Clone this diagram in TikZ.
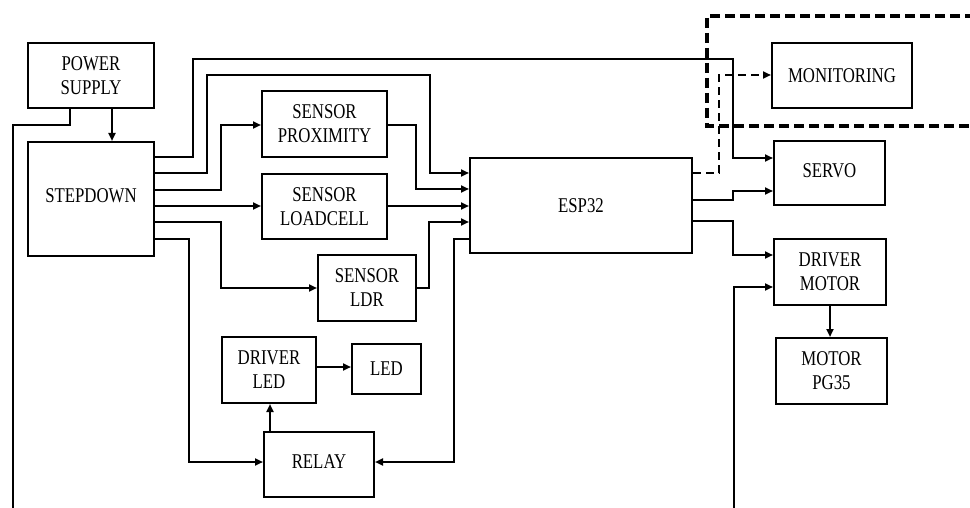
\documentclass[tikz,border=0pt]{standalone}
\usepackage{fontspec}
\setmainfont[FakeStretch=0.8]{Liberation Serif}
\usetikzlibrary{arrows.meta}
\begin{document}
\begin{tikzpicture}[x=1pt,y=-1pt,
  box/.style={draw, line width=2pt, inner sep=0pt, align=center,
    font=\fontsize{21}{24}\selectfont},
  wire/.style={line width=2pt},
  arr/.style={wire, -{Triangle[length=8pt,width=7pt]}},
  darr/.style={line width=2pt, dash pattern=on 8pt off 5pt, -{Triangle[length=8pt,width=7pt]}},
  group/.style={line width=4pt, dash pattern=on 10pt off 5pt}]
\useasboundingbox (0,0) rectangle (970,508);
\clip (0,0) rectangle (970,508);

% dashed group box
\draw[group] (990,16) -- (707,16) -- (707,126) -- (990,126);

% boxes
\node[box, minimum width=126pt, minimum height=65pt] (ps) at (91,75.5) {POWER\\SUPPLY};
\node[box, minimum width=126pt, minimum height=114pt] (sd) at (91,199) {\raisebox{7pt}{STEPDOWN}};
\node[box, minimum width=125pt, minimum height=66pt] (prox) at (324.5,124) {SENSOR\\PROXIMITY};
\node[box, minimum width=125pt, minimum height=65pt] (load) at (324.5,206.5) {SENSOR\\LOADCELL};
\node[box, minimum width=98pt, minimum height=66pt] (ldr) at (367,288) {SENSOR\\LDR};
\node[box, minimum width=94pt, minimum height=66pt] (dled) at (269,370) {DRIVER\\LED};
\node[box, minimum width=69pt, minimum height=50pt] (led) at (386.5,369) {LED};
\node[box, minimum width=110pt, minimum height=65pt] (relay) at (319,464.5) {\raisebox{6pt}{RELAY}};
\node[box, minimum width=222pt, minimum height=95pt] (esp) at (581,205.5) {\raisebox{-7pt}{ESP32}};
\node[box, minimum width=140pt, minimum height=65pt] (mon) at (842,75.5) {\raisebox{-13pt}{MONITORING}};
\node[box, minimum width=111pt, minimum height=64pt] (servo) at (829.5,173) {\raisebox{5pt}{SERVO}};
\node[box, minimum width=112pt, minimum height=66pt] (dmot) at (830,272) {DRIVER\\MOTOR};
\node[box, minimum width=111pt, minimum height=66pt] (mpg) at (831.5,371) {MOTOR\\PG35};

% free ends at the picture's lower edge
\coordinate (busL) at (13,512);
\coordinate (busR) at (734,512);

% power supply
\draw[arr] (112,0 |- ps.south) -- (112,0 |- sd.north);
\draw[wire] (70,0 |- ps.south) -- (70,125) -- (13,125) -- (busL);

% stepdown outputs
\draw[arr] (sd.east |- 0,157) -- (193,157) -- (193,59) -- (733,59) -- (733,158) -- (servo.west |- 0,158);
\draw[arr] (sd.east |- 0,173) -- (207,173) -- (207,75) -- (430,75) -- (430,173) -- (esp.west |- 0,173);
\draw[arr] (sd.east |- 0,190) -- (221,190) -- (221,125) -- (prox.west |- 0,125);
\draw[arr] (sd.east |- 0,206) -- (load.west |- 0,206);
\draw[arr] (sd.east |- 0,222) -- (221,222) -- (221,288) -- (ldr.west |- 0,288);
\draw[arr] (sd.east |- 0,239) -- (189,239) -- (189,462) -- (relay.west |- 0,462);

% sensors to ESP32
\draw[arr] (prox.east |- 0,125) -- (416,125) -- (416,189) -- (esp.west |- 0,189);
\draw[arr] (load.east |- 0,206) -- (esp.west |- 0,206);
\draw[arr] (ldr.east |- 0,288) -- (429,288) -- (429,222) -- (esp.west |- 0,222);

% ESP32 to relay, relay chain
\draw[arr] (esp.west |- 0,239) -- (454,239) -- (454,462) -- (relay.east |- 0,462);
\draw[arr] (270,0 |- relay.north) -- (270,0 |- dled.south);
\draw[arr] (dled.east |- 0,367) -- (led.west |- 0,367);

% ESP32 outputs
\draw[darr] (esp.east |- 0,173) -- (719,173) -- (719,75) -- (mon.west |- 0,75);
\draw[arr] (esp.east |- 0,200) -- (733,200) -- (733,191) -- (servo.west |- 0,191);
\draw[arr] (esp.east |- 0,221) -- (733,221) -- (733,255) -- (dmot.west |- 0,255);
\draw[arr] (busR) -- (734,287) -- (dmot.west |- 0,287);
\draw[arr] (830,0 |- dmot.south) -- (830,0 |- mpg.north);
\end{tikzpicture}
\end{document}
